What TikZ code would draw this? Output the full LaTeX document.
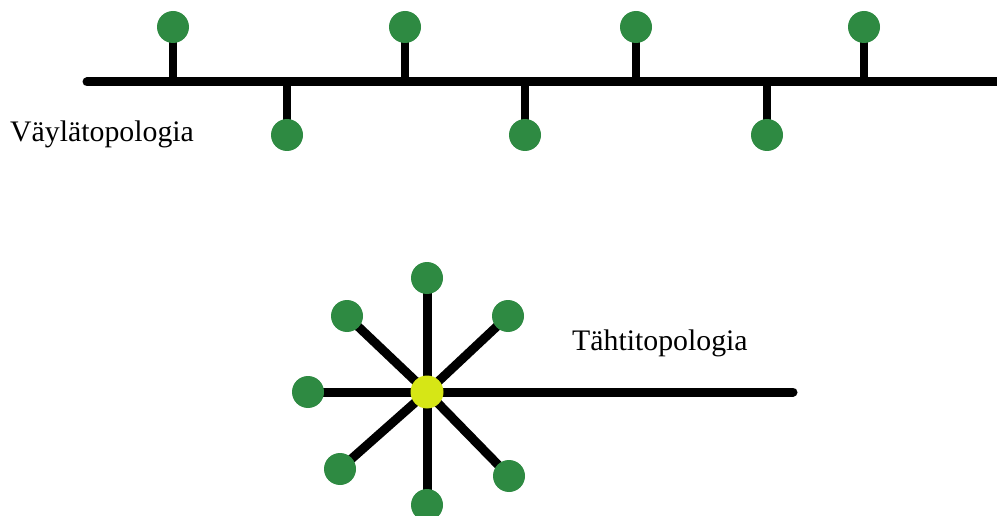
\documentclass[tikz,border=0pt]{standalone}
\usepackage{fontspec}
\setmainfont{Liberation Serif}
\usetikzlibrary{backgrounds}
\definecolor{nodegreen}{RGB}{46,138,66}
\definecolor{hubyellow}{RGB}{214,230,22}
\tikzset{
  station/.style={circle, fill=nodegreen, draw=none, minimum size=32pt, inner sep=0pt},
  hub/.style={circle, fill=hubyellow, draw=none, minimum size=33pt, inner sep=0pt},
  cable/.style={line width=9pt, black},
  stub/.style={line width=8pt, black},
  label/.style={font=\fontsize{29.8}{32}\selectfont, inner sep=0pt, anchor=base west},
}
\begin{document}
\begin{tikzpicture}[x=1pt, y=-1pt]
  \useasboundingbox (0,0) rectangle (997,516);
  \clip (0,0) rectangle (997,516);

  % bus topology
  \coordinate (busL) at (87,82);
  \coordinate (busR) at (1005,82);
  \node[station] (u1) at (173,27) {};
  \node[station] (u2) at (405,27) {};
  \node[station] (u3) at (636,27) {};
  \node[station] (u4) at (864,27) {};
  \node[station] (d1) at (287,135) {};
  \node[station] (d2) at (525,135) {};
  \node[station] (d3) at (767,135) {};
  \node[label] (buslabel) at (10,142) {Väylätopologia};

  % star topology
  \node[hub] (hub) at (427,392) {};
  \node[station] (sN)  at (427,278) {};
  \node[station] (sNE) at (508,316) {};
  \node[station] (sNW) at (347,316) {};
  \node[station] (sW)  at (308,392) {};
  \node[station] (sSW) at (340,469) {};
  \node[station] (sSE) at (509,476) {};
  \node[station] (sS)  at (427,505) {};
  \coordinate (tail) at (793,392);
  \node[label] (starlabel) at (572,350) {Tähtitopologia};

  \begin{scope}[on background layer]
    \draw[cable, line cap=round] (busL) -- (busR);
    \foreach \n in {u1,u2,u3,u4,d1,d2,d3}
      \draw[stub] (\n.center) -- (\n.center |- busL);
    \foreach \n in {sN,sNE,sNW,sW,sSW,sSE,sS}
      \draw[cable] (hub.center) -- (\n.center);
    \draw[cable, line cap=round] (hub.center) -- (tail);
  \end{scope}
\end{tikzpicture}
\end{document}
